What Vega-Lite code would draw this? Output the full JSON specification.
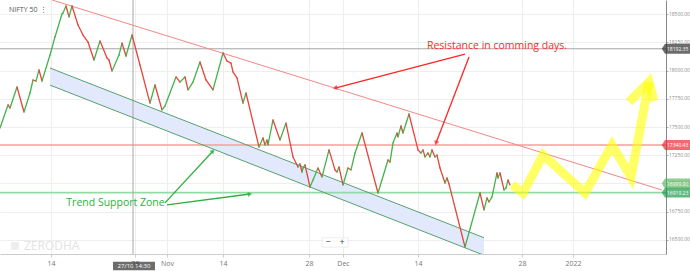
{
  "$schema": "https://vega.github.io/schema/vega-lite/v6.json",
  "width": 666,
  "height": 254,
  "autosize": {"type": "none"},
  "padding": {"left": 0, "top": 0, "right": 24, "bottom": 17},
  "background": "white",
  "config": {
    "view": {"stroke": null},
    "font": "Open Sans",
    "axisX": {"grid": true, "gridColor": "#eeeeee", "gridWidth": 1, "domainColor": "#cccccc", "tickColor": "#cccccc", "tickSize": 3, "labelFontSize": 7, "labelColor": "#777777", "labelPadding": 2, "labelFlush": false, "labelOverlap": false},
    "axisY": {"grid": true, "gridColor": "#eeeeee", "gridWidth": 1, "domainColor": "#888888", "tickColor": "#aaaaaa", "tickSize": 2, "labelFontSize": 4.9, "labelColor": "#8a8a8a", "labelPadding": 0.5, "labelOverlap": false}
  },
  "datasets": {
    "price": [
      {"t":0,"p":17491},{"t":8,"p":17695},{"t":10,"p":17668},{"t":17,"p":17854},{"t":24,"p":17633},{"t":30,"p":17801},{"t":33,"p":17916},{"t":36,"p":17907},{"t":39,"p":18005},{"t":42,"p":17907},{"t":50,"p":18137},{"t":55,"p":18297},{"t":62,"p":18500},{"t":63,"p":18509},{"t":66,"p":18571},{"t":69,"p":18474},{"t":72,"p":18571},{"t":78,"p":18403},{"t":83,"p":18314},{"t":88,"p":18252},{"t":94,"p":18093},{"t":100,"p":18261},{"t":107,"p":18111},{"t":109,"p":18093},{"t":112,"p":17996},{"t":119,"p":18137},{"t":122,"p":18243},{"t":126,"p":18128},{"t":132,"p":18314},{"t":140,"p":18049},{"t":150,"p":17712},{"t":155,"p":17872},{"t":162,"p":17651},{"t":165,"p":17686},{"t":176,"p":17943},{"t":180,"p":17898},{"t":185,"p":17943},{"t":188,"p":17828},{"t":193,"p":17898},{"t":200,"p":18075},{"t":206,"p":17916},{"t":213,"p":17828},{"t":223,"p":18155},{"t":227,"p":18084},{"t":231,"p":18066},{"t":233,"p":17987},{"t":237,"p":17934},{"t":243,"p":17712},{"t":246,"p":17801},{"t":259,"p":17323},{"t":263,"p":17403},{"t":265,"p":17341},{"t":267,"p":17385},{"t":268,"p":17341},{"t":273,"p":17562},{"t":280,"p":17385},{"t":286,"p":17535},{"t":293,"p":17235},{"t":298,"p":17146},{"t":300,"p":17173},{"t":302,"p":17102},{"t":303,"p":17137},{"t":305,"p":17164},{"t":310,"p":16969},{"t":313,"p":17031},{"t":318,"p":17137},{"t":322,"p":17058},{"t":329,"p":17297},{"t":335,"p":17120},{"t":337,"p":17102},{"t":339,"p":17146},{"t":343,"p":16987},{"t":348,"p":17137},{"t":351,"p":17120},{"t":355,"p":17270},{"t":362,"p":17447},{"t":378,"p":16916},{"t":388,"p":17208},{"t":390,"p":17190},{"t":393,"p":17359},{"t":397,"p":17447},{"t":398,"p":17412},{"t":401,"p":17509},{"t":403,"p":17447},{"t":409,"p":17615},{"t":418,"p":17297},{"t":421,"p":17270},{"t":423,"p":17297},{"t":425,"p":17235},{"t":428,"p":17270},{"t":430,"p":17235},{"t":432,"p":17297},{"t":435,"p":17235},{"t":437,"p":17252},{"t":440,"p":17137},{"t":445,"p":17004},{"t":447,"p":17049},{"t":449,"p":16996},{"t":465,"p":16438},{"t":480,"p":16916},{"t":484,"p":16766},{"t":487,"p":16872},{"t":489,"p":16836},{"t":492,"p":16881},{"t":497,"p":17093},{"t":498,"p":17049},{"t":500,"p":17093},{"t":504,"p":16943},{"t":506,"p":16960},{"t":508,"p":17031},{"t":510,"p":16987}
    ],
    "proj": [
      {"part":"path","i":0,"t":512,"p":16987},{"part":"path","i":1,"t":523,"p":16916},{"part":"path","i":2,"t":543,"p":17252},{"part":"path","i":3,"t":585,"p":16916},{"part":"path","i":4,"t":612,"p":17341},{"part":"path","i":5,"t":631,"p":17058},{"part":"path","i":6,"t":649,"p":17898},
      {"part":"head","i":0,"t":629,"p":17721},{"part":"head","i":1,"t":649,"p":17898},{"part":"head","i":2,"t":654,"p":17730}
    ],
    "band": [{"t":50,"p":18022,"p2":17871},{"t":484,"p":16520,"p2":16365}],
    "levels": [{"kind":"cross","p":18192.35},{"kind":"res","p":17340.43},{"kind":"sup","p":16919.23}],
    "resline": [{"t":52,"p":18624,"t2":662,"p2":16942}],
    "bandedges": [{"t":50,"p":18022,"t2":484,"p2":16520},{"t":50,"p":17871,"t2":484,"p2":16365}],
    "arrows": [
      {"id":"r1","grp":"resistance","t":465,"p":18146,"t2":335,"p2":17845},
      {"id":"r2","grp":"resistance","t":469,"p":18120,"t2":436,"p2":17358},
      {"id":"g1","grp":"support","t":165,"p":16828,"t2":213,"p2":17288},
      {"id":"g2","grp":"support","t":167,"p":16810,"t2":250,"p2":16907}
    ],
    "tags": [
      {"kind":"cross","p":18192.35,"label":"18192.35"},
      {"kind":"res","p":17340.43,"label":"17340.43"},
      {"kind":"last","p":16999.90,"label":"16999.90"},
      {"kind":"sup","p":16919.23,"label":"16919.23"}
    ]
  },
  "layer": [
    {
      "data": {"name": "band"},
      "mark": {"type": "area", "color": "#e3e9fc", "clip": true},
      "encoding": {
        "x": {"field": "t", "type": "quantitative", "scale": {"domain": [0, 666], "nice": false, "zero": false}, "axis": {"title": null, "values": [51, 135, 167, 223, 309, 343, 418, 522, 573], "labelExpr": "datum.value == 167 ? 'Nov' : datum.value == 343 ? 'Dec' : datum.value == 573 ? '2022' : (datum.value == 309 || datum.value == 522 || datum.value == 135) ? '28' : '14'"}},
        "y": {"field": "p", "type": "quantitative", "scale": {"domain": [16376, 18624], "nice": false, "zero": false}, "axis": {"title": null, "orient": "right", "values": [16500, 16750, 17000, 17250, 17500, 17750, 18000, 18250, 18500], "format": ".2f"}},
        "y2": {"field": "p2"}
      }
    },
    {
      "data": {"name": "levels"},
      "mark": {"type": "rule"},
      "encoding": {
        "y": {"field": "p", "type": "quantitative", "scale": {"domain": [16376, 18624], "nice": false, "zero": false}, "axis": {"title": null, "orient": "right", "values": [16500, 16750, 17000, 17250, 17500, 17750, 18000, 18250, 18500], "format": ".2f"}},
        "color": {"field": "kind", "type": "nominal", "legend": null, "scale": {"domain": ["cross", "res", "sup"], "range": ["#a6a6a6", "#ff9a9a", "#92dba4"]}},
        "strokeWidth": {"condition": {"test": "datum.kind == 'cross'", "value": 1}, "value": 1.6}
      }
    },
    {
      "data": {"values": [{"t": 133}]},
      "mark": {"type": "rule", "color": "#a6a6a6", "strokeWidth": 1},
      "encoding": {
        "x": {"field": "t", "type": "quantitative", "scale": {"domain": [0, 666], "nice": false, "zero": false}, "axis": {"title": null, "values": [51, 135, 167, 223, 309, 343, 418, 522, 573], "labelExpr": "datum.value == 167 ? 'Nov' : datum.value == 343 ? 'Dec' : datum.value == 573 ? '2022' : (datum.value == 309 || datum.value == 522 || datum.value == 135) ? '28' : '14'"}}
      }
    },
    {
      "data": {"name": "resline"},
      "mark": {"type": "rule", "color": "#f58686", "strokeWidth": 1, "clip": true},
      "encoding": {
        "x": {"field": "t", "type": "quantitative", "scale": {"domain": [0, 666], "nice": false, "zero": false}, "axis": {"title": null, "values": [51, 135, 167, 223, 309, 343, 418, 522, 573], "labelExpr": "datum.value == 167 ? 'Nov' : datum.value == 343 ? 'Dec' : datum.value == 573 ? '2022' : (datum.value == 309 || datum.value == 522 || datum.value == 135) ? '28' : '14'"}},
        "y": {"field": "p", "type": "quantitative", "scale": {"domain": [16376, 18624], "nice": false, "zero": false}, "axis": {"title": null, "orient": "right", "values": [16500, 16750, 17000, 17250, 17500, 17750, 18000, 18250, 18500], "format": ".2f"}},
        "x2": {"field": "t2"}, "y2": {"field": "p2"}
      }
    },
    {
      "data": {"name": "bandedges"},
      "mark": {"type": "rule", "color": "#55a06e", "strokeWidth": 1, "clip": true},
      "encoding": {
        "x": {"field": "t", "type": "quantitative", "scale": {"domain": [0, 666], "nice": false, "zero": false}, "axis": {"title": null, "values": [51, 135, 167, 223, 309, 343, 418, 522, 573], "labelExpr": "datum.value == 167 ? 'Nov' : datum.value == 343 ? 'Dec' : datum.value == 573 ? '2022' : (datum.value == 309 || datum.value == 522 || datum.value == 135) ? '28' : '14'"}},
        "y": {"field": "p", "type": "quantitative", "scale": {"domain": [16376, 18624], "nice": false, "zero": false}, "axis": {"title": null, "orient": "right", "values": [16500, 16750, 17000, 17250, 17500, 17750, 18000, 18250, 18500], "format": ".2f"}},
        "x2": {"field": "t2"}, "y2": {"field": "p2"}
      }
    },
    {
      "data": {"name": "price"},
      "transform": [
        {"window": [{"op": "lead", "field": "t", "as": "t2"}, {"op": "lead", "field": "p", "as": "p2"}], "sort": [{"field": "t"}]},
        {"filter": "datum.t2 != null"}
      ],
      "mark": {"type": "rule", "strokeWidth": 1.3, "strokeCap": "round"},
      "encoding": {
        "x": {"field": "t", "type": "quantitative", "scale": {"domain": [0, 666], "nice": false, "zero": false}, "axis": {"title": null, "values": [51, 135, 167, 223, 309, 343, 418, 522, 573], "labelExpr": "datum.value == 167 ? 'Nov' : datum.value == 343 ? 'Dec' : datum.value == 573 ? '2022' : (datum.value == 309 || datum.value == 522 || datum.value == 135) ? '28' : '14'"}},
        "y": {"field": "p", "type": "quantitative", "scale": {"domain": [16376, 18624], "nice": false, "zero": false}, "axis": {"title": null, "orient": "right", "values": [16500, 16750, 17000, 17250, 17500, 17750, 18000, 18250, 18500], "format": ".2f"}},
        "x2": {"field": "t2"}, "y2": {"field": "p2"},
        "color": {"condition": {"test": "datum.p2 > datum.p", "value": "#45b34a"}, "value": "#e5453c"}
      }
    },
    {
      "data": {"name": "proj"},
      "mark": {"type": "line", "color": "#ffff00", "opacity": 0.6, "strokeWidth": 9, "strokeJoin": "miter", "strokeCap": "butt"},
      "encoding": {
        "x": {"field": "t", "type": "quantitative", "scale": {"domain": [0, 666], "nice": false, "zero": false}, "axis": {"title": null, "values": [51, 135, 167, 223, 309, 343, 418, 522, 573], "labelExpr": "datum.value == 167 ? 'Nov' : datum.value == 343 ? 'Dec' : datum.value == 573 ? '2022' : (datum.value == 309 || datum.value == 522 || datum.value == 135) ? '28' : '14'"}},
        "y": {"field": "p", "type": "quantitative", "scale": {"domain": [16376, 18624], "nice": false, "zero": false}, "axis": {"title": null, "orient": "right", "values": [16500, 16750, 17000, 17250, 17500, 17750, 18000, 18250, 18500], "format": ".2f"}},
        "detail": {"field": "part"},
        "order": {"field": "i"}
      }
    },
    {
      "data": {"name": "arrows"},
      "mark": {"type": "rule", "strokeWidth": 1.3},
      "encoding": {
        "x": {"field": "t", "type": "quantitative", "scale": {"domain": [0, 666], "nice": false, "zero": false}, "axis": {"title": null, "values": [51, 135, 167, 223, 309, 343, 418, 522, 573], "labelExpr": "datum.value == 167 ? 'Nov' : datum.value == 343 ? 'Dec' : datum.value == 573 ? '2022' : (datum.value == 309 || datum.value == 522 || datum.value == 135) ? '28' : '14'"}},
        "y": {"field": "p", "type": "quantitative", "scale": {"domain": [16376, 18624], "nice": false, "zero": false}, "axis": {"title": null, "orient": "right", "values": [16500, 16750, 17000, 17250, 17500, 17750, 18000, 18250, 18500], "format": ".2f"}},
        "x2": {"field": "t2"}, "y2": {"field": "p2"},
        "stroke": {"field": "grp", "type": "nominal", "legend": null, "scale": {"domain": ["resistance", "support"], "range": ["#ff2525", "#2eb03c"]}}
      }
    },
    {
      "data": {"name": "arrows"},
      "transform": [{"filter": "datum.id == 'r1'"}],
      "mark": {"type": "point", "shape": "triangle-up", "filled": true, "size": 28, "angle": 255, "color": "#ff2525"},
      "encoding": {
        "x": {"field": "t2", "type": "quantitative", "scale": {"domain": [0, 666], "nice": false, "zero": false}, "axis": {"title": null, "values": [51, 135, 167, 223, 309, 343, 418, 522, 573], "labelExpr": "datum.value == 167 ? 'Nov' : datum.value == 343 ? 'Dec' : datum.value == 573 ? '2022' : (datum.value == 309 || datum.value == 522 || datum.value == 135) ? '28' : '14'"}},
        "y": {"field": "p2", "type": "quantitative", "scale": {"domain": [16376, 18624], "nice": false, "zero": false}, "axis": {"title": null, "orient": "right", "values": [16500, 16750, 17000, 17250, 17500, 17750, 18000, 18250, 18500], "format": ".2f"}}
      }
    },
    {
      "data": {"name": "arrows"},
      "transform": [{"filter": "datum.id == 'r2'"}],
      "mark": {"type": "point", "shape": "triangle-up", "filled": true, "size": 28, "angle": 201, "color": "#ff2525"},
      "encoding": {
        "x": {"field": "t2", "type": "quantitative", "scale": {"domain": [0, 666], "nice": false, "zero": false}, "axis": {"title": null, "values": [51, 135, 167, 223, 309, 343, 418, 522, 573], "labelExpr": "datum.value == 167 ? 'Nov' : datum.value == 343 ? 'Dec' : datum.value == 573 ? '2022' : (datum.value == 309 || datum.value == 522 || datum.value == 135) ? '28' : '14'"}},
        "y": {"field": "p2", "type": "quantitative", "scale": {"domain": [16376, 18624], "nice": false, "zero": false}, "axis": {"title": null, "orient": "right", "values": [16500, 16750, 17000, 17250, 17500, 17750, 18000, 18250, 18500], "format": ".2f"}}
      }
    },
    {
      "data": {"name": "arrows"},
      "transform": [{"filter": "datum.id == 'g1'"}],
      "mark": {"type": "point", "shape": "triangle-up", "filled": true, "size": 28, "angle": 43, "color": "#2eb03c"},
      "encoding": {
        "x": {"field": "t2", "type": "quantitative", "scale": {"domain": [0, 666], "nice": false, "zero": false}, "axis": {"title": null, "values": [51, 135, 167, 223, 309, 343, 418, 522, 573], "labelExpr": "datum.value == 167 ? 'Nov' : datum.value == 343 ? 'Dec' : datum.value == 573 ? '2022' : (datum.value == 309 || datum.value == 522 || datum.value == 135) ? '28' : '14'"}},
        "y": {"field": "p2", "type": "quantitative", "scale": {"domain": [16376, 18624], "nice": false, "zero": false}, "axis": {"title": null, "orient": "right", "values": [16500, 16750, 17000, 17250, 17500, 17750, 18000, 18250, 18500], "format": ".2f"}}
      }
    },
    {
      "data": {"name": "arrows"},
      "transform": [{"filter": "datum.id == 'g2'"}],
      "mark": {"type": "point", "shape": "triangle-up", "filled": true, "size": 28, "angle": 82, "color": "#2eb03c"},
      "encoding": {
        "x": {"field": "t2", "type": "quantitative", "scale": {"domain": [0, 666], "nice": false, "zero": false}, "axis": {"title": null, "values": [51, 135, 167, 223, 309, 343, 418, 522, 573], "labelExpr": "datum.value == 167 ? 'Nov' : datum.value == 343 ? 'Dec' : datum.value == 573 ? '2022' : (datum.value == 309 || datum.value == 522 || datum.value == 135) ? '28' : '14'"}},
        "y": {"field": "p2", "type": "quantitative", "scale": {"domain": [16376, 18624], "nice": false, "zero": false}, "axis": {"title": null, "orient": "right", "values": [16500, 16750, 17000, 17250, 17500, 17750, 18000, 18250, 18500], "format": ".2f"}}
      }
    },
    {
      "data": {"values": [
        {"t": 497, "p": 18217, "txt": "Resistance in comming days.", "grp": "resistance"},
        {"t": 115.5, "p": 16827, "txt": "Trend Support Zone", "grp": "support"}
      ]},
      "mark": {"type": "text", "fontSize": 10.5, "align": "center", "baseline": "middle"},
      "encoding": {
        "x": {"field": "t", "type": "quantitative", "scale": {"domain": [0, 666], "nice": false, "zero": false}, "axis": {"title": null, "values": [51, 135, 167, 223, 309, 343, 418, 522, 573], "labelExpr": "datum.value == 167 ? 'Nov' : datum.value == 343 ? 'Dec' : datum.value == 573 ? '2022' : (datum.value == 309 || datum.value == 522 || datum.value == 135) ? '28' : '14'"}},
        "y": {"field": "p", "type": "quantitative", "scale": {"domain": [16376, 18624], "nice": false, "zero": false}, "axis": {"title": null, "orient": "right", "values": [16500, 16750, 17000, 17250, 17500, 17750, 18000, 18250, 18500], "format": ".2f"}},
        "text": {"field": "txt"},
        "fill": {"field": "grp", "type": "nominal", "legend": null, "scale": {"domain": ["resistance", "support", "cross", "res", "last", "sup"], "range": ["#ff2a2a", "#2fb03c", "#2e2e2e", "#ee2a36", "#5cb860", "#1e9a4c"]}}
      }
    },
    {
      "data": {"values": [{"t": 9, "p": 18535, "txt": "NIFTY 50"}, {"t": 40, "p": 18535, "txt": "⋮"}]},
      "mark": {"type": "text", "fontSize": 7, "color": "#555555", "align": "left", "baseline": "middle"},
      "encoding": {
        "x": {"field": "t", "type": "quantitative", "scale": {"domain": [0, 666], "nice": false, "zero": false}, "axis": {"title": null, "values": [51, 135, 167, 223, 309, 343, 418, 522, 573], "labelExpr": "datum.value == 167 ? 'Nov' : datum.value == 343 ? 'Dec' : datum.value == 573 ? '2022' : (datum.value == 309 || datum.value == 522 || datum.value == 135) ? '28' : '14'"}},
        "y": {"field": "p", "type": "quantitative", "scale": {"domain": [16376, 18624], "nice": false, "zero": false}, "axis": {"title": null, "orient": "right", "values": [16500, 16750, 17000, 17250, 17500, 17750, 18000, 18250, 18500], "format": ".2f"}},
        "text": {"field": "txt"}
      }
    },
    {
      "data": {"values": [{"t": 15, "p": 16447}]},
      "mark": {"type": "point", "shape": "square", "filled": true, "size": 60, "color": "#e6e6e6"},
      "encoding": {
        "x": {"field": "t", "type": "quantitative", "scale": {"domain": [0, 666], "nice": false, "zero": false}, "axis": {"title": null, "values": [51, 135, 167, 223, 309, 343, 418, 522, 573], "labelExpr": "datum.value == 167 ? 'Nov' : datum.value == 343 ? 'Dec' : datum.value == 573 ? '2022' : (datum.value == 309 || datum.value == 522 || datum.value == 135) ? '28' : '14'"}},
        "y": {"field": "p", "type": "quantitative", "scale": {"domain": [16376, 18624], "nice": false, "zero": false}, "axis": {"title": null, "orient": "right", "values": [16500, 16750, 17000, 17250, 17500, 17750, 18000, 18250, 18500], "format": ".2f"}}
      }
    },
    {
      "data": {"values": [{"t": 24, "p": 16447, "txt": "ZERODHA"}]},
      "mark": {"type": "text", "fontSize": 12, "color": "#e3e3e3", "align": "left", "baseline": "middle"},
      "encoding": {
        "x": {"field": "t", "type": "quantitative", "scale": {"domain": [0, 666], "nice": false, "zero": false}, "axis": {"title": null, "values": [51, 135, 167, 223, 309, 343, 418, 522, 573], "labelExpr": "datum.value == 167 ? 'Nov' : datum.value == 343 ? 'Dec' : datum.value == 573 ? '2022' : (datum.value == 309 || datum.value == 522 || datum.value == 135) ? '28' : '14'"}},
        "y": {"field": "p", "type": "quantitative", "scale": {"domain": [16376, 18624], "nice": false, "zero": false}, "axis": {"title": null, "orient": "right", "values": [16500, 16750, 17000, 17250, 17500, 17750, 18000, 18250, 18500], "format": ".2f"}},
        "text": {"field": "txt"}
      }
    },
    {
      "data": {"values": [{"t": 335, "p": 16478}]},
      "mark": {"type": "point", "shape": "M-1,-0.36L1,-0.36L1,0.36L-1,0.36Z", "filled": true, "size": 676, "color": "#ffffff", "stroke": "#e0e0e0", "strokeWidth": 0.8},
      "encoding": {
        "x": {"field": "t", "type": "quantitative", "scale": {"domain": [0, 666], "nice": false, "zero": false}, "axis": {"title": null, "values": [51, 135, 167, 223, 309, 343, 418, 522, 573], "labelExpr": "datum.value == 167 ? 'Nov' : datum.value == 343 ? 'Dec' : datum.value == 573 ? '2022' : (datum.value == 309 || datum.value == 522 || datum.value == 135) ? '28' : '14'"}},
        "y": {"field": "p", "type": "quantitative", "scale": {"domain": [16376, 18624], "nice": false, "zero": false}, "axis": {"title": null, "orient": "right", "values": [16500, 16750, 17000, 17250, 17500, 17750, 18000, 18250, 18500], "format": ".2f"}}
      }
    },
    {
      "data": {"values": [{"t": 328, "p": 16478, "txt": "−"}, {"t": 342, "p": 16478, "txt": "+"}]},
      "mark": {"type": "text", "fontSize": 9, "color": "#444444", "align": "center", "baseline": "middle"},
      "encoding": {
        "x": {"field": "t", "type": "quantitative", "scale": {"domain": [0, 666], "nice": false, "zero": false}, "axis": {"title": null, "values": [51, 135, 167, 223, 309, 343, 418, 522, 573], "labelExpr": "datum.value == 167 ? 'Nov' : datum.value == 343 ? 'Dec' : datum.value == 573 ? '2022' : (datum.value == 309 || datum.value == 522 || datum.value == 135) ? '28' : '14'"}},
        "y": {"field": "p", "type": "quantitative", "scale": {"domain": [16376, 18624], "nice": false, "zero": false}, "axis": {"title": null, "orient": "right", "values": [16500, 16750, 17000, 17250, 17500, 17750, 18000, 18250, 18500], "format": ".2f"}},
        "text": {"field": "txt"}
      }
    },
    {
      "data": {"name": "tags"},
      "mark": {"type": "point", "shape": "M-1.25,0L-1,-0.38L1,-0.38L1,0.38L-1,0.38Z", "filled": true, "size": 676, "strokeWidth": 0},
      "encoding": {
        "x": {"datum": 678, "type": "quantitative", "scale": {"domain": [0, 666], "nice": false, "zero": false}, "axis": {"title": null, "values": [51, 135, 167, 223, 309, 343, 418, 522, 573], "labelExpr": "datum.value == 167 ? 'Nov' : datum.value == 343 ? 'Dec' : datum.value == 573 ? '2022' : (datum.value == 309 || datum.value == 522 || datum.value == 135) ? '28' : '14'"}},
        "y": {"field": "p", "type": "quantitative", "scale": {"domain": [16376, 18624], "nice": false, "zero": false}, "axis": {"title": null, "orient": "right", "values": [16500, 16750, 17000, 17250, 17500, 17750, 18000, 18250, 18500], "format": ".2f"}},
        "fill": {"field": "kind", "type": "nominal", "legend": null, "scale": {"domain": ["resistance", "support", "cross", "res", "last", "sup"], "range": ["#ff2a2a", "#2fb03c", "#2e2e2e", "#ee2a36", "#5cb860", "#1e9a4c"]}}
      }
    },
    {
      "data": {"name": "tags"},
      "mark": {"type": "text", "fontSize": 5, "color": "#ffffff", "align": "left", "baseline": "middle"},
      "encoding": {
        "x": {"datum": 667, "type": "quantitative", "scale": {"domain": [0, 666], "nice": false, "zero": false}, "axis": {"title": null, "values": [51, 135, 167, 223, 309, 343, 418, 522, 573], "labelExpr": "datum.value == 167 ? 'Nov' : datum.value == 343 ? 'Dec' : datum.value == 573 ? '2022' : (datum.value == 309 || datum.value == 522 || datum.value == 135) ? '28' : '14'"}},
        "y": {"field": "p", "type": "quantitative", "scale": {"domain": [16376, 18624], "nice": false, "zero": false}, "axis": {"title": null, "orient": "right", "values": [16500, 16750, 17000, 17250, 17500, 17750, 18000, 18250, 18500], "format": ".2f"}},
        "text": {"field": "label"}
      }
    },
    {
      "data": {"values": [{"t": 134, "p": 16270}]},
      "mark": {"type": "point", "shape": "M-1,-0.2L1,-0.2L1,0.2L-1,0.2Z", "filled": true, "size": 1764, "color": "#2e2e2e", "strokeWidth": 0},
      "encoding": {
        "x": {"field": "t", "type": "quantitative", "scale": {"domain": [0, 666], "nice": false, "zero": false}, "axis": {"title": null, "values": [51, 135, 167, 223, 309, 343, 418, 522, 573], "labelExpr": "datum.value == 167 ? 'Nov' : datum.value == 343 ? 'Dec' : datum.value == 573 ? '2022' : (datum.value == 309 || datum.value == 522 || datum.value == 135) ? '28' : '14'"}},
        "y": {"field": "p", "type": "quantitative", "scale": {"domain": [16376, 18624], "nice": false, "zero": false}, "axis": {"title": null, "orient": "right", "values": [16500, 16750, 17000, 17250, 17500, 17750, 18000, 18250, 18500], "format": ".2f"}}
      }
    },
    {
      "data": {"values": [{"t": 134, "p": 16270, "txt": "27/10 14:30"}]},
      "mark": {"type": "text", "fontSize": 6, "color": "#ffffff", "align": "center", "baseline": "middle"},
      "encoding": {
        "x": {"field": "t", "type": "quantitative", "scale": {"domain": [0, 666], "nice": false, "zero": false}, "axis": {"title": null, "values": [51, 135, 167, 223, 309, 343, 418, 522, 573], "labelExpr": "datum.value == 167 ? 'Nov' : datum.value == 343 ? 'Dec' : datum.value == 573 ? '2022' : (datum.value == 309 || datum.value == 522 || datum.value == 135) ? '28' : '14'"}},
        "y": {"field": "p", "type": "quantitative", "scale": {"domain": [16376, 18624], "nice": false, "zero": false}, "axis": {"title": null, "orient": "right", "values": [16500, 16750, 17000, 17250, 17500, 17750, 18000, 18250, 18500], "format": ".2f"}},
        "text": {"field": "txt"}
      }
    }
  ]
}
